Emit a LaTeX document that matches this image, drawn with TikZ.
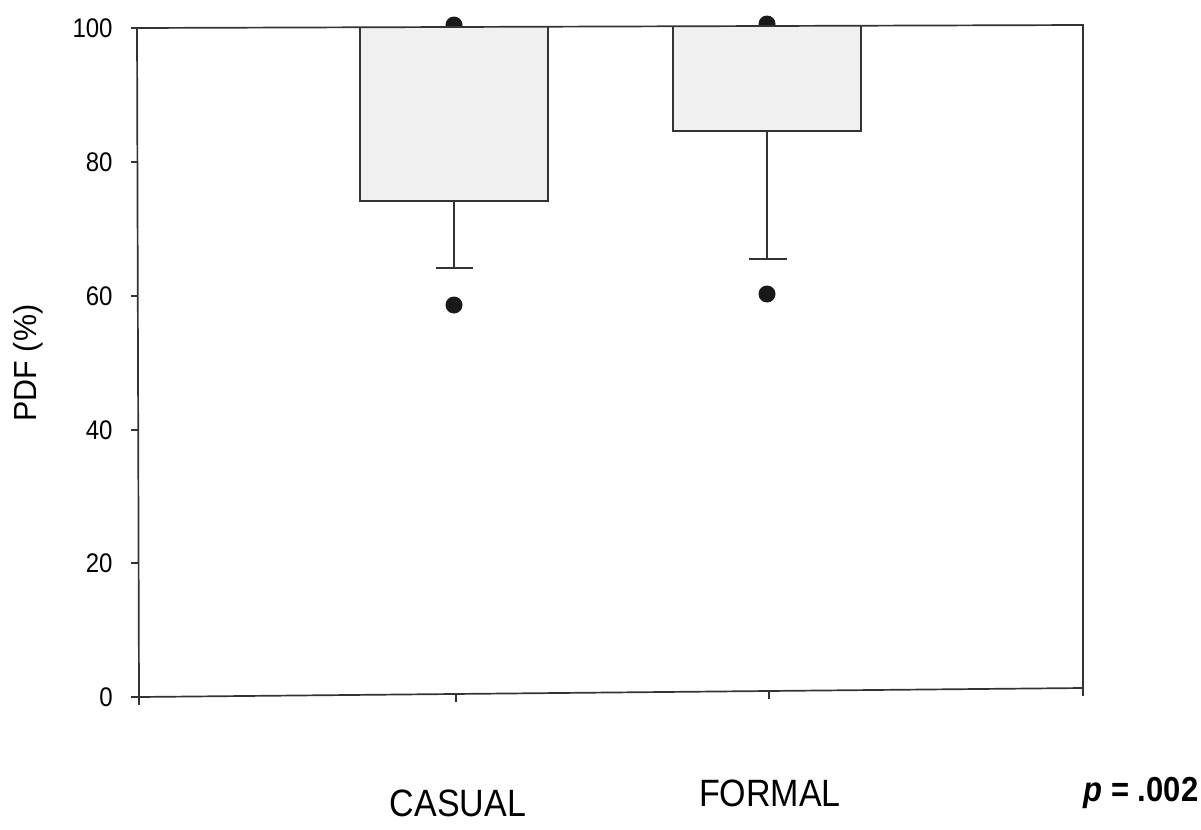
\documentclass[tikz,border=0pt]{standalone}
\usepackage{fontspec}
\usepackage{graphicx}
\setmainfont{Liberation Sans}
\usetikzlibrary{positioning}
\tikzset{>=stealth}
\colorlet{boxfill}{black!6}
\colorlet{linecol}{black!80}
\newcommand{\tallText}[1]{\scalebox{1}[1.12]{#1}}
\tikzset{
  frameline/.style={line width=0.85pt, draw=linecol},
  boxline/.style={line width=0.8pt, draw=linecol, fill=boxfill},
  whisker/.style={line width=0.8pt, draw=linecol},
  outlier/.style={circle, fill=black!90, inner sep=0pt, minimum size=8.5pt},
  ticklab/.style={anchor=east, inner sep=0pt, font=\fontsize{12}{13}\selectfont},
  catlab/.style={inner sep=0pt, font=\fontsize{17}{19}\selectfont}
}

\begin{document}
\begin{tikzpicture}[x=0.5pt,y=-0.5pt]
\useasboundingbox (0,0) rectangle (1201,830);
% frame corners
\coordinate (tl) at (137,28);
\coordinate (tr) at (1083,25);
\coordinate (br) at (1083,688);
\coordinate (bl) at (139,697);

% dots at 100 (half hidden by the boxes)
\node[outlier] (casualtop) at (454,25) {};
\node[outlier] (formaltop) at (767,24) {};

% CASUAL
\draw[boxline] (360,27) -- (360,201) -- (548,201) -- (548,27);
\coordinate (cw0) at (454,201);
\coordinate (cw1) at (454,268);
\draw[whisker] (cw0) -- (cw1);
\draw[whisker] (436,268) -- (473,268);
\node[outlier] (casuallow) at (454,305) {};

% FORMAL
\draw[boxline] (673,26) -- (673,131) -- (861,131) -- (861,26);
\coordinate (fw0) at (767,131);
\coordinate (fw1) at (767,259);
\draw[whisker] (fw0) -- (fw1);
\draw[whisker] (749,259) -- (787,259);
\node[outlier] (formallow) at (767,294) {};

% frame
\draw[frameline] (tl) -- (tr) -- (br) -- (bl) -- cycle;

% y ticks
\foreach \v/\yy in {100/28,80/162,60/296,40/430,20/563,0/697}{
  \draw[whisker] (131,\yy) -- (138,\yy);
  \node[ticklab] (y\v) at (113,\yy) {\tallText{\v}};
}
% x ticks
\foreach \xx/\yy in {139/697,456/694,769/691,1083/688}{
  \draw[whisker] (\xx,\yy) -- (\xx,\yy+8);
}

% labels
\node[rotate=90, inner sep=0pt, font=\fontsize{14.5}{16}\selectfont] (ylab) at (28,363) {\scalebox{1.05}[1.1]{PDF (\%)}};
\node[catlab] (casual) at (458,803) {\tallText{CASUAL}};
\node[catlab] (formal) at (770,793) {\tallText{FORMAL}};
\node[catlab, font=\fontsize{15.5}{18}\selectfont\bfseries] (pval) at (1141,793) {\tallText{\textit{p} = .002}};
\end{tikzpicture}
\end{document}
